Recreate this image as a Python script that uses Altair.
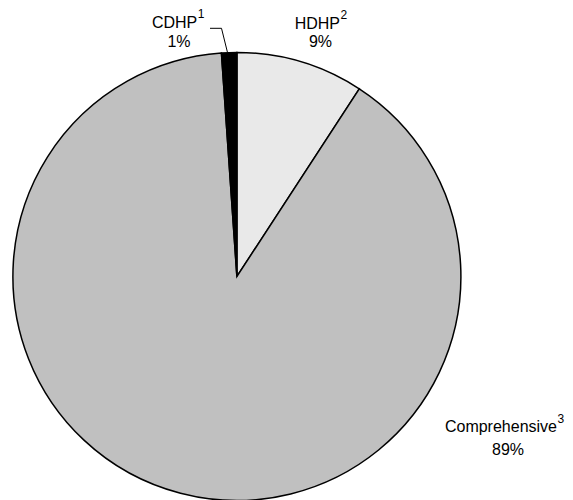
import altair as alt
import pandas as pd

# Data (clockwise from 12 o'clock)
categories = ["HDHP", "Comprehensive", "CDHP"]
shares = [9.2, 89.7, 1.1]
pct_labels = ["9%", "89%", "1%"]
footnotes = ["2", "3", "1"]

df = pd.DataFrame({
    "plan": categories,
    "share": shares,
    "pct": pct_labels,
    "note": footnotes,
    "idx": list(range(len(categories))),
})

FONT = "Liberation Sans"
CX, CY, R = 228.9, 268.5, 224

base = alt.Chart(df)

pie = base.mark_arc(outerRadius=R, stroke="black", strokeWidth=1.5).encode(
    theta=alt.Theta("share:Q", stack=True),
    order=alt.Order("idx:Q"),
    color=alt.Color(
        "plan:N",
        scale=alt.Scale(domain=categories, range=["#e9e9e9", "#c0c0c0", "#000000"]),
        legend=None,
    ),
    x=alt.value(CX),
    y=alt.value(CY),
)

# label placement (view pixels): name right edge, name baseline, pct centre, pct baseline
label_pos = {
    "CDHP": (189.3, 19.5, 171.0, 38.7),
    "HDHP": (332.0, 20.5, 312.5, 39.0),
    "Comprehensive": (549.0, 424.0, 500.0, 447.0),
}

layers = [pie]
for plan, (nx, ny, px, py) in label_pos.items():
    sel = base.transform_filter(alt.datum.plan == plan)
    layers.append(sel.mark_text(font=FONT, fontSize=16, align="right", baseline="alphabetic", color="black").encode(
        text="plan:N", x=alt.value(nx), y=alt.value(ny)))
    layers.append(sel.mark_text(font=FONT, fontSize=12, align="left", baseline="alphabetic", color="black").encode(
        text="note:N", x=alt.value(nx + 0.5), y=alt.value(ny - 9.5)))
    layers.append(sel.mark_text(font=FONT, fontSize=16, align="center", baseline="alphabetic", color="black").encode(
        text="pct:N", x=alt.value(px), y=alt.value(py)))

# leader line for CDHP
lead1 = base.transform_filter(alt.datum.plan == "CDHP").mark_rule(color="black", strokeWidth=1).encode(
    x=alt.value(202), x2=alt.value(213.5), y=alt.value(20.3), y2=alt.value(20.3))
lead2 = base.transform_filter(alt.datum.plan == "CDHP").mark_rule(color="black", strokeWidth=1).encode(
    x=alt.value(213.5), x2=alt.value(219.5), y=alt.value(20.3), y2=alt.value(44.5))
layers += [lead1, lead2]

chart = alt.layer(*layers).properties(
    width=557, height=492, padding=0, autosize=alt.AutoSizeParams(type="none")
).configure_view(stroke=None)

chart.save("out.html", embed_options={"renderer": "svg", "actions": False})
